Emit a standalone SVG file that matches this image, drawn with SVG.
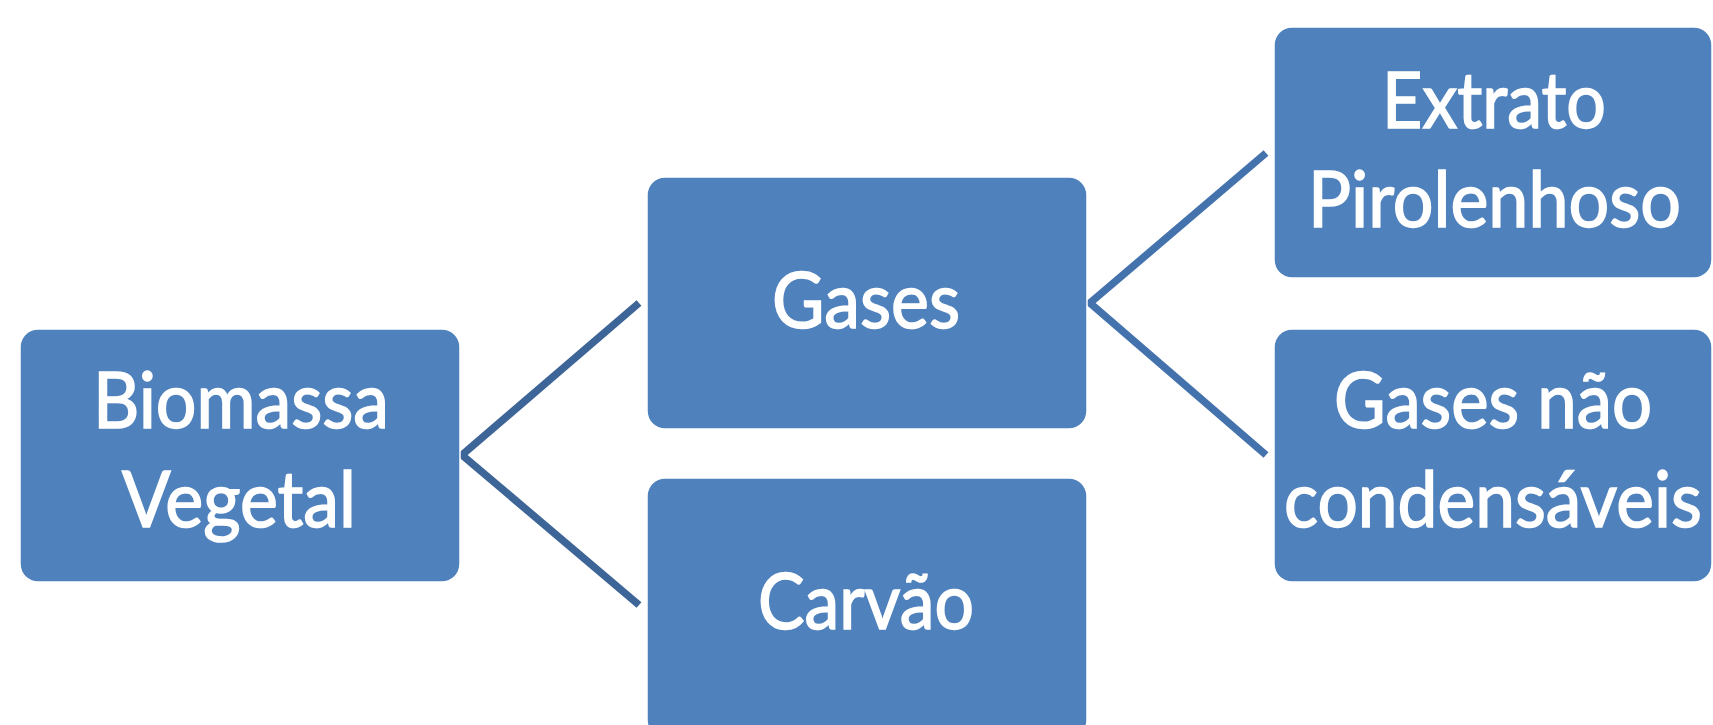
<svg xmlns="http://www.w3.org/2000/svg" width="1713" height="725" viewBox="0 0 1713 725">
<style>
.box{fill:#4F81BD;stroke:#ffffff;stroke-width:1.5}
.t{font-family:Lato,"Open Sans","Liberation Sans",sans-serif;font-size:78px;fill:#ffffff;stroke:#ffffff;stroke-width:1.6}
.c1{fill:none;stroke:#3E6597;stroke-width:7.5}
.c2{fill:none;stroke:#4472AD;stroke-width:7.5}
</style>
<rect width="1713" height="725" fill="#ffffff"/>
<g id="connectors">
<polyline class="c1" points="639,303 462,455 639,605"/>
<polyline class="c2" points="1266,153 1090,303 1266,455"/>
</g>
<g id="biomassa">
<rect class="box" x="20" y="329" width="440" height="253" rx="18"/>
<text class="t" x="93" y="428" textLength="296" lengthAdjust="spacingAndGlyphs">Biomassa</text>
<text class="t" x="122" y="527" textLength="234" lengthAdjust="spacingAndGlyphs">Vegetal</text>
</g>
<g id="gases">
<rect class="box" x="647" y="177" width="440" height="252" rx="18"/>
<text class="t" x="772" y="328" textLength="188" lengthAdjust="spacingAndGlyphs">Gases</text>
</g>
<g id="carvao">
<rect class="box" x="647" y="478" width="440" height="260" rx="18"/>
<text class="t" x="758" y="629" textLength="216" lengthAdjust="spacingAndGlyphs">Carvão</text>
</g>
<g id="extrato">
<rect class="box" x="1274" y="27" width="438" height="251" rx="18"/>
<text class="t" x="1382" y="128" textLength="224" lengthAdjust="spacingAndGlyphs">Extrato</text>
<text class="t" x="1308" y="227" textLength="373" lengthAdjust="spacingAndGlyphs">Pirolenhoso</text>
</g>
<g id="gases-nao">
<rect class="box" x="1274" y="329" width="438" height="253" rx="18"/>
<text class="t" x="1334" y="428" textLength="318" lengthAdjust="spacingAndGlyphs">Gases não</text>
<text class="t" x="1284" y="527" textLength="418" lengthAdjust="spacingAndGlyphs">condensáveis</text>
</g>
</svg>
